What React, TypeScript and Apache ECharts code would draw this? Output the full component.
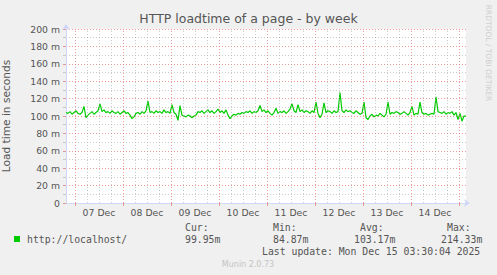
import React, { useEffect, useRef } from 'react';
import * as echarts from 'echarts';

const TITLE = 'HTTP loadtime of a page - by week';
const Y_NAME = 'Load time in seconds';
const SERIES_NAME = 'http://localhost/';
const dayLabels = ['07 Dec', '08 Dec', '09 Dec', '10 Dec', '11 Dec', '12 Dec', '13 Dec', '14 Dec'];
const midnightLabels = ['07 Dec', '08 Dec', '09 Dec', '10 Dec', '11 Dec', '12 Dec', '13 Dec', '14 Dec', '15 Dec'];
// hours from graph start (Dec 6 19:30) to first midnight
const FIRST_MIDNIGHT_H = 4.5;
const SPAN_H = 200;

// hourly load time samples in ms, from Dec 6 19:30 to Dec 15 03:30
const loadMs = [
  104, 103, 105, 102, 104, 106, 103, 102, 104, 111,
  98, 101, 103, 105, 102, 104, 106, 114, 105, 107,
  104, 105, 103, 106, 104, 103, 105, 102, 104, 106,
  103, 104, 101, 97, 99, 103, 104, 102, 105, 103,
  106, 117, 104, 105, 103, 106, 104, 105, 103, 107,
  104, 105, 103, 113, 104, 102, 95, 112, 101, 100,
  99, 101, 100, 98, 100, 101, 105, 104, 106, 103,
  105, 107, 104, 106, 103, 105, 108, 104, 106, 103,
  107, 101, 97, 100, 102, 101, 103, 102, 104, 103,
  105, 104, 106, 103, 105, 104, 106, 112, 105, 107,
  104, 106, 103, 101, 104, 109, 103, 105, 104, 106,
  103, 105, 108, 114, 106, 104, 113, 105, 107, 104,
  106, 105, 103, 106, 104, 116, 103, 98, 102, 115,
  104, 106, 105, 103, 106, 104, 105, 127, 106, 104,
  107, 105, 106, 104, 103, 106, 104, 102, 103, 116,
  98, 96, 100, 102, 99, 101, 100, 103, 101, 99,
  102, 116, 102, 104, 103, 105, 104, 102, 103, 105,
  103, 101, 104, 111, 101, 103, 102, 116, 104, 102,
  103, 101, 102, 103, 102, 122, 105, 104, 103, 105,
  102, 104, 103, 105, 101, 104, 96, 103, 94, 100,
  99.95,
];

const yMax = 200;
const yStep = 20;
const statLabels = ['Cur:', 'Min:', 'Avg:', 'Max:'];
const statValues = ['99.95m', '84.87m', '103.17m', '214.33m'];
const LAST_UPDATE = 'Last update: Mon Dec 15 03:30:04 2025';
const FOOTER = 'Munin 2.0.73';
const WATERMARK = 'RRDTOOL / TOBI OETIKER';

const LINE_COLOR = '#00CC00';
const MAJOR = 'rgba(230, 120, 120, 0.75)';
const MINOR = 'rgba(170, 170, 170, 0.6)';
const AXIS = '#CFD6F8';
const FONT = '#555555';
const SANS = 'DejaVu Sans';
const MONO = 'DejaVu Sans Mono';

export default function App() {
  const ref = useRef<HTMLDivElement>(null);

  useEffect(() => {
    if (!ref.current) return;
    const chart = echarts.init(ref.current, undefined, { renderer: 'svg' });

    const midnightHours = midnightLabels.map((_, k) => FIRST_MIDNIGHT_H + 24 * k);
    const labelHours = dayLabels.map((_, k) => FIRST_MIDNIGHT_H + 12 + 24 * k);
    const sixHour: number[] = [];
    for (let h = FIRST_MIDNIGHT_H; h <= SPAN_H; h += 6) {
      if (!midnightHours.includes(h)) sixHour.push(h);
    }

    const statX = [185, 273, 360, 447];
    const valX = [185, 273, 354, 441];

    const graphics: any[] = [];
    statLabels.forEach((t, i) => {
      graphics.push({
        type: 'text', x: statX[i], y: 227.5,
        style: { text: t, fill: FONT, fontSize: 9.8, fontFamily: MONO, textAlign: 'left', textVerticalAlign: 'middle', align: 'left', verticalAlign: 'middle' },
      });
    });
    statValues.forEach((t, i) => {
      graphics.push({
        type: 'text', x: valX[i], y: 239.5,
        style: { text: t, fill: FONT, fontSize: 9.8, fontFamily: MONO, textAlign: 'left', textVerticalAlign: 'middle', align: 'left', verticalAlign: 'middle' },
      });
    });
    graphics.push({
      type: 'text', x: 262, y: 251.7,
      style: { text: LAST_UPDATE, fill: FONT, fontSize: 9.8, fontFamily: MONO, textAlign: 'left', textVerticalAlign: 'middle', align: 'left', verticalAlign: 'middle' },
    });
    graphics.push({
      type: 'text', x: 248, y: 264,
      style: { text: FOOTER, fill: '#c4c4c4', fontSize: 8, fontFamily: SANS, textAlign: 'center', textVerticalAlign: 'middle', align: 'center', verticalAlign: 'middle' },
    });
    graphics.push({
      type: 'text', x: 488, y: 53, rotation: -Math.PI / 2,
      style: { text: WATERMARK, fill: '#cfcfcf', fontSize: 7.5, fontFamily: SANS, textAlign: 'center', textVerticalAlign: 'middle', align: 'center', verticalAlign: 'middle' },
    });

    const option: any = {
      animation: false,
      backgroundColor: '#f0f0f0',
      title: {
        text: TITLE, left: 'center', top: 12, padding: 0,
        textStyle: { color: FONT, fontSize: 12.5, fontWeight: 'normal', fontFamily: SANS },
      },
      legend: {
        data: [{ name: SERIES_NAME, icon: 'rect' }],
        left: 14, top: 234, itemWidth: 6, itemHeight: 6, selectedMode: false, padding: 0,
        textStyle: { color: FONT, fontSize: 9.8, fontFamily: MONO, padding: [0, 0, 0, 2] },
      },
      grid: {
        left: 66, right: 31, top: 29, bottom: 72,
        show: true, backgroundColor: '#ffffff', borderWidth: 0,
        outerBoundsMode: 'none',
      },
      xAxis: {
        type: 'value', min: 0, max: SPAN_H,
        axisLine: {
          show: true, onZero: false, lineStyle: { color: AXIS },
          symbol: ['none', 'arrow'], symbolSize: [6, 6], symbolOffset: [0, 4],
        },
        axisTick: { show: true, customValues: midnightHours, length: 3, lineStyle: { color: MAJOR } },
        axisLabel: {
          customValues: labelHours,
          formatter: (v: number) => dayLabels[Math.round((v - FIRST_MIDNIGHT_H - 12) / 24)] || '',
          margin: 5, color: FONT, fontSize: 9.3, fontFamily: SANS,
        },
        splitLine: { show: false },
      },
      yAxis: {
        type: 'value', min: 0, max: yMax, interval: yStep,
        name: Y_NAME, nameLocation: 'middle', nameGap: 55,
        nameTextStyle: { color: FONT, fontSize: 10.6, fontFamily: SANS },
        axisLine: {
          show: true, lineStyle: { color: AXIS },
          symbol: ['none', 'arrow'], symbolSize: [6, 6], symbolOffset: [0, 5],
        },
        axisTick: { show: true, length: 3, lineStyle: { color: MAJOR } },
        minorTick: { show: true, splitNumber: 2, length: 3, lineStyle: { color: MINOR } },
        axisLabel: {
          formatter: (v: number) => (v === 0 ? '0' : `${v} m`),
          margin: 6, color: FONT, fontSize: 9.3, fontFamily: SANS,
        },
        splitLine: { show: true, lineStyle: { color: MAJOR, type: [1, 2], width: 1 } },
        minorSplitLine: { show: true, lineStyle: { color: MINOR, type: [1, 2], width: 1 } },
      },
      series: [
        {
          type: 'line', name: '__grid', data: [], silent: true, z: 1,
          markLine: {
            silent: true, symbol: ['none', 'none'], label: { show: false }, animation: false,
            data: [
              ...sixHour.map((h) => ({ xAxis: h, lineStyle: { color: MINOR, type: [1, 2], width: 1 } })),
              ...midnightHours.map((h) => ({ xAxis: h, lineStyle: { color: MAJOR, type: [1, 2], width: 1 } })),
            ],
          },
        },
        {
          type: 'line', name: SERIES_NAME, z: 3,
          data: loadMs.map((v, i) => [i, v]),
          showSymbol: false, symbol: 'none',
          lineStyle: { color: LINE_COLOR, width: 1.2 },
          itemStyle: { color: LINE_COLOR },
        },
      ],
      graphic: graphics,
    };

    chart.setOption(option);
    return () => chart.dispose();
  }, []);

  return (
    <div
      ref={ref}
      style={{ position: 'fixed', left: 0, top: 0, width: 497, height: 275 }}
    />
  );
}
